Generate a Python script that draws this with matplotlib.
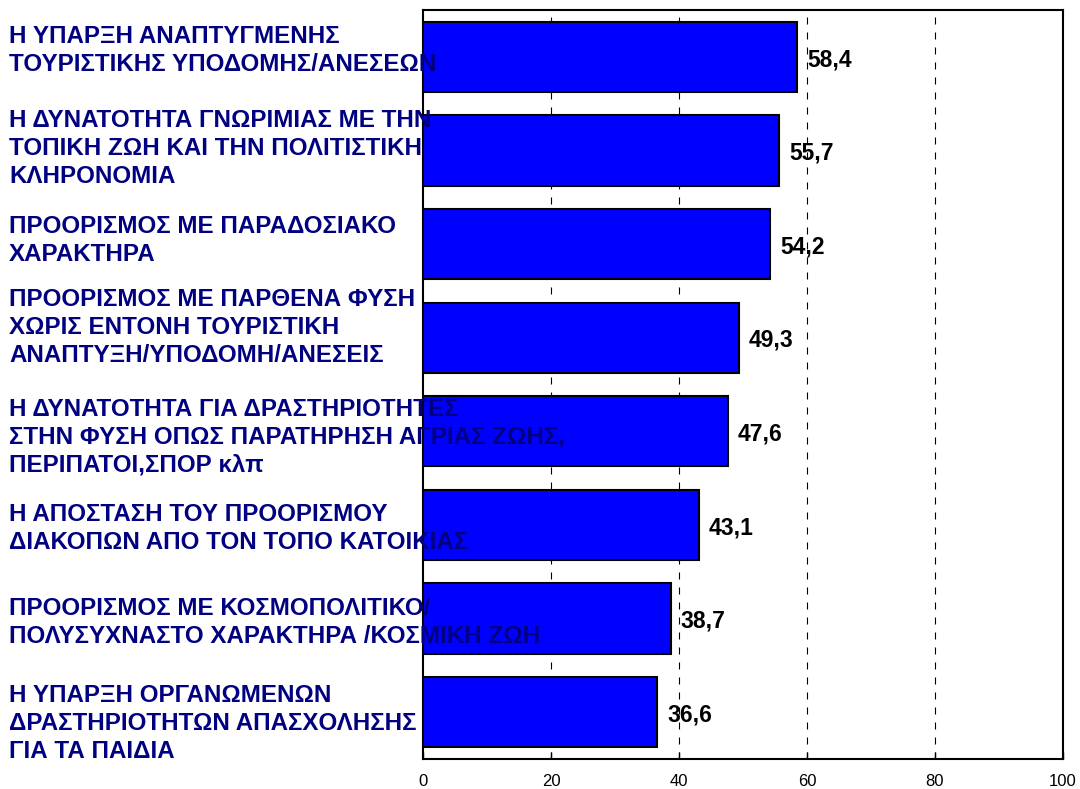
import matplotlib.pyplot as plt
import numpy as np
from matplotlib.transforms import blended_transform_factory

categories = [
    "Η ΥΠΑΡΞΗ ΑΝΑΠΤΥΓΜΕΝΗΣ\nΤΟΥΡΙΣΤΙΚΗΣ ΥΠΟΔΟΜΗΣ/ΑΝΕΣΕΩΝ",
    "Η ΔΥΝΑΤΟΤΗΤΑ ΓΝΩΡΙΜΙΑΣ ΜΕ ΤΗΝ\nΤΟΠΙΚΗ ΖΩΗ ΚΑΙ ΤΗΝ ΠΟΛΙΤΙΣΤΙΚΗ\nΚΛΗΡΟΝΟΜΙΑ",
    "ΠΡΟΟΡΙΣΜΟΣ ΜΕ ΠΑΡΑΔΟΣΙΑΚΟ\nΧΑΡΑΚΤΗΡΑ",
    "ΠΡΟΟΡΙΣΜΟΣ ΜΕ ΠΑΡΘΕΝΑ ΦΥΣΗ\nΧΩΡΙΣ ΕΝΤΟΝΗ ΤΟΥΡΙΣΤΙΚΗ\nΑΝΑΠΤΥΞΗ/ΥΠΟΔΟΜΗ/ΑΝΕΣΕΙΣ",
    "Η ΔΥΝΑΤΟΤΗΤΑ ΓΙΑ ΔΡΑΣΤΗΡΙΟΤΗΤΕΣ\nΣΤΗΝ ΦΥΣΗ ΟΠΩΣ ΠΑΡΑΤΗΡΗΣΗ ΑΓΡΙΑΣ ΖΩΗΣ,\nΠΕΡΙΠΑΤΟΙ,ΣΠΟΡ κλπ",
    "Η ΑΠΟΣΤΑΣΗ ΤΟΥ ΠΡΟΟΡΙΣΜΟΥ\nΔΙΑΚΟΠΩΝ ΑΠΟ ΤΟΝ ΤΟΠΟ ΚΑΤΟΙΚΙΑΣ",
    "ΠΡΟΟΡΙΣΜΟΣ ΜΕ ΚΟΣΜΟΠΟΛΙΤΙΚΟ/\nΠΟΛΥΣΥΧΝΑΣΤΟ ΧΑΡΑΚΤΗΡΑ /ΚΟΣΜΙΚΗ ΖΩΗ",
    "Η ΥΠΑΡΞΗ ΟΡΓΑΝΩΜΕΝΩΝ\nΔΡΑΣΤΗΡΙΟΤΗΤΩΝ ΑΠΑΣΧΟΛΗΣΗΣ\nΓΙΑ ΤΑ ΠΑΙΔΙΑ",
]
values = [58.4, 55.7, 54.2, 49.3, 47.6, 43.1, 38.7, 36.6]
value_labels = ["58,4", "55,7", "54,2", "49,3", "47,6", "43,1", "38,7", "36,6"]
xticks = [0, 20, 40, 60, 80, 100]
grid_at = [20, 40, 60, 80]

# small vertical nudges of the category text blocks (in bar units), as in the original layout
label_nudge = [-0.07, -0.02, -0.04, -0.11, 0.06, 0.04, 0.04, 0.12]

plt.rcParams['font.family'] = ['Liberation Sans', 'DejaVu Sans']

fig = plt.figure(figsize=(10.8, 7.89), dpi=100)
ax = fig.add_axes([423 / 1080, 30 / 789, 640 / 1080, 749 / 789])

y = np.arange(len(values))
ax.barh(y, values, height=0.75, color='#0000ff', edgecolor='black',
        linewidth=1.5, zorder=2)
for g in grid_at:
    ax.axvline(g, color='black', linestyle=(0, (6.3, 7.2)), linewidth=0.8, zorder=1)

ax.set_xlim(0, 100)
ax.set_ylim(len(values) - 0.5, -0.5)
ax.set_xticks(xticks)
ax.set_yticks([])
ax.tick_params(axis='x', direction='in', length=5, width=1, labelsize=12, pad=11)
for s in ax.spines.values():
    s.set_linewidth(1.5)

# value labels
for i, (v, lab) in enumerate(zip(values, value_labels)):
    ax.text(v + 1.6, i + 0.03, lab, fontsize=16.5, fontweight='bold',
            va='center', ha='left', color='black', zorder=5)

# category labels, drawn across the left part of the bars
trans = blended_transform_factory(fig.transFigure, ax.transData)
for i, c in enumerate(categories):
    ax.text(9 / 1080, i + label_nudge[i], c, transform=trans, ha='left', va='center',
            fontsize=17.4, fontweight='bold', color='#000080',
            linespacing=1.26, zorder=6, clip_on=False)

fig.savefig('out.png', dpi=100)
